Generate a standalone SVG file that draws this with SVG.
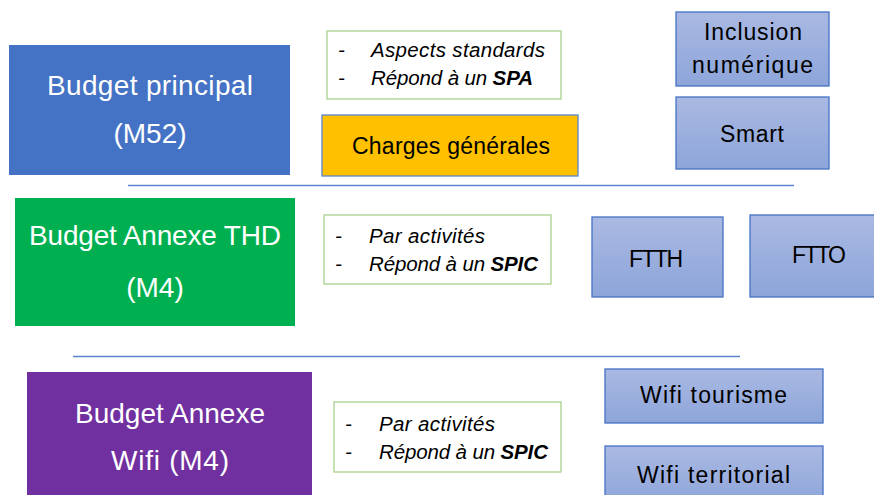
<svg xmlns="http://www.w3.org/2000/svg" width="874" height="495" viewBox="0 0 874 495">
<defs>
<linearGradient id="lb" x1="0" y1="0" x2="0" y2="1">
<stop offset="0" stop-color="#AAB9E2"/>
<stop offset="1" stop-color="#8DA5DA"/>
</linearGradient>
</defs>
<style>
text{font-family:"Liberation Sans",Arial,sans-serif}
.big{font-size:28px;fill:#fff;text-anchor:middle}
.mid{font-size:23px;fill:#000;text-anchor:middle}
.it{font-size:20.5px;font-style:italic;fill:#000}
.lb{fill:url(#lb);stroke:#4472C4;stroke-width:1.3}
.tb{fill:#fff;stroke:#A9D18E;stroke-width:1.3}
.sep{stroke:#5B84CF;stroke-width:1.5}
</style>
<rect width="874" height="495" fill="#fff"/>
<g id="budget-principal">
<rect x="9" y="45" width="281" height="130" fill="#4472C4"/>
<text class="big" x="150" y="95" textLength="206">Budget principal</text>
<text class="big" x="150" y="143">(M52)</text>
</g>
<g id="note-spa">
<rect class="tb" x="327" y="31" width="234" height="68"/>
<text class="it" x="338" y="57">-</text>
<text class="it" x="371" y="57" textLength="174">Aspects standards</text>
<text class="it" x="338" y="85">-</text>
<text class="it" x="371" y="85" textLength="162">Répond à un <tspan font-weight="bold">SPA</tspan></text>
</g>
<g id="charges-generales">
<rect x="322" y="115" width="256" height="61" fill="#FFC000" stroke="#5B84CF" stroke-width="1.3"/>
<text class="mid" x="451" y="154" textLength="198">Charges générales</text>
</g>
<g id="inclusion-numerique">
<rect class="lb" x="676" y="12" width="153" height="74"/>
<text class="mid" x="753" y="40" font-size="24" textLength="98">Inclusion</text>
<text class="mid" x="752.5" y="73" font-size="24" textLength="121">numérique</text>
</g>
<g id="smart">
<rect class="lb" x="676" y="97" width="153" height="72"/>
<text class="mid" x="752" y="142" font-size="24" textLength="64">Smart</text>
</g>
<g id="budget-thd">
<rect x="15" y="198" width="280" height="128" fill="#00B050"/>
<text class="big" x="155" y="245" textLength="252">Budget Annexe THD</text>
<text class="big" x="155" y="297">(M4)</text>
</g>
<g id="note-spic-thd">
<rect class="tb" x="324" y="215" width="227" height="69"/>
<text class="it" x="335" y="243">-</text>
<text class="it" x="369" y="243" textLength="116">Par activités</text>
<text class="it" x="335" y="271">-</text>
<text class="it" x="369" y="271" textLength="169">Répond à un <tspan font-weight="bold">SPIC</tspan></text>
</g>
<g id="ftth">
<rect class="lb" x="592" y="217" width="131" height="80"/>
<text class="mid" x="656" y="267" font-size="22" textLength="54">FTTH</text>
</g>
<g id="ftto">
<rect class="lb" x="750" y="215" width="140" height="82"/>
<text class="mid" x="819" y="263" font-size="22" textLength="54">FTTO</text>
</g>
<g id="budget-wifi">
<rect x="27" y="372" width="285" height="130" fill="#7030A0"/>
<text class="big" x="170" y="423" textLength="190">Budget Annexe</text>
<text class="big" x="170" y="470" textLength="118">Wifi (M4)</text>
</g>
<g id="note-spic-wifi">
<rect class="tb" x="334" y="402" width="227" height="70"/>
<text class="it" x="345" y="431">-</text>
<text class="it" x="379" y="431" textLength="116">Par activités</text>
<text class="it" x="345" y="459">-</text>
<text class="it" x="379" y="459" textLength="169">Répond à un <tspan font-weight="bold">SPIC</tspan></text>
</g>
<g id="wifi-tourisme">
<rect class="lb" x="605" y="369" width="218" height="54"/>
<text class="mid" x="713.5" y="403" font-size="25" textLength="147">Wifi tourisme</text>
</g>
<g id="wifi-territorial">
<rect class="lb" x="605" y="446" width="218" height="60"/>
<text class="mid" x="713.5" y="483" font-size="25" textLength="153">Wifi territorial</text>
</g>
<g id="connectors">
<line class="sep" x1="128" y1="185.5" x2="794" y2="185.5"/>
<line class="sep" x1="73" y1="356.5" x2="740" y2="356.5"/>
</g>
</svg>
